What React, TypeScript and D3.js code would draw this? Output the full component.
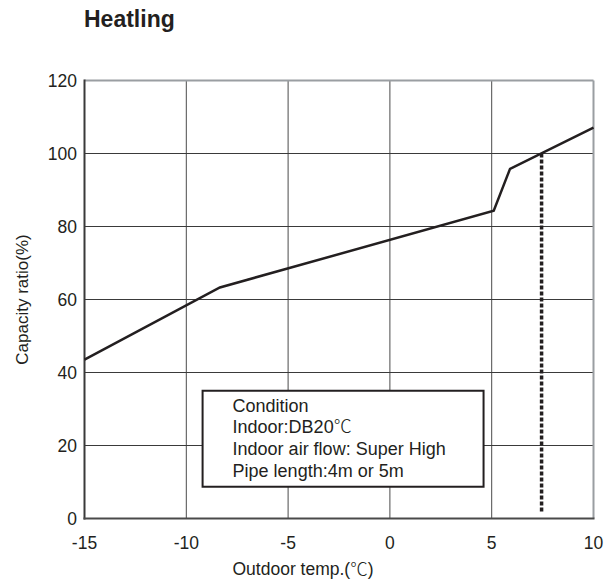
import React from 'react';
import * as d3 from 'd3';

const TEMPS = [-15, -8.35, 5.1, 5.9, 10];
const CAPACITY = [43.5, 63.3, 84.3, 95.8, 107.1];
const RATED_TEMP = 7.45;
const RATED_RANGE = [1.5, 100];
const X_TICKS = [-15, -10, -5, 0, 5, 10];
const Y_TICKS = [0, 20, 40, 60, 80, 100, 120];
const NOTE_LINES = ['Condition', 'Indoor:DB20℃', 'Indoor air flow: Super High', 'Pipe length:4m or 5m'];

const W = 614;
const H = 586;
const FONT = 'Liberation Sans, Arial, sans-serif';
const CJK = '"Noto Sans CJK SC", sans-serif';

// draw the ℃ sign with a CJK face, as in the original
function withDegree(s: string) {
  const parts = s.split('℃');
  if (parts.length === 1) return s;
  return parts.map((p, i) => (
    <React.Fragment key={i}>
      {p}
      {i < parts.length - 1 && <tspan fontFamily={CJK} fontWeight={300}>℃</tspan>}
    </React.Fragment>
  ));
}

export default function App() {
  const x = d3.scaleLinear().domain([-15, 10]).range([84.5, 593.5]);
  const y = d3.scaleLinear().domain([0, 120]).range([518.5, 80.5]);

  const line = d3.line<number>()
    .x((_, i) => x(TEMPS[i]))
    .y((d) => y(d));

  // note box, placed in data units
  const bx0 = x(-9.2);
  const bx1 = x(4.6);
  const by0 = y(35);
  const by1 = y(8.7);

  return (
    <svg width={W} height={H} style={{ position: 'absolute', left: 0, top: 0, background: '#fff' }}>
      <text x={84} y={27} fontFamily={FONT} fontWeight="bold" fontSize={23} fill="#231f20">Heatling</text>

      {/* grid */}
      {X_TICKS.slice(1, -1).map((t) => (
        <line key={`gx${t}`} x1={x(t)} x2={x(t)} y1={y(120)} y2={y(0)} stroke="#4a4a4a" strokeWidth={1} />
      ))}
      {Y_TICKS.slice(1, -1).map((t) => (
        <line key={`gy${t}`} x1={x(-15)} x2={x(10)} y1={y(t)} y2={y(t)} stroke="#3a3a3a" strokeWidth={1} />
      ))}
      <line x1={x(-15)} x2={x(10)} y1={y(120)} y2={y(120)} stroke="#9a9ea2" strokeWidth={2} />
      <line x1={x(10)} x2={x(10)} y1={y(120)} y2={y(0)} stroke="#9a9ea2" strokeWidth={2} />
      <line x1={x(-15)} x2={x(-15)} y1={y(120) - 1} y2={y(0) + 1} stroke="#3a3a3a" strokeWidth={2} />
      <line x1={x(-15) - 1} x2={x(10) + 1} y1={y(0)} y2={y(0)} stroke="#4a4a4a" strokeWidth={2} />

      {/* note box */}
      <rect x={bx0} y={by0} width={bx1 - bx0} height={by1 - by0} fill="#fff" stroke="#231f20" strokeWidth={2} />
      {NOTE_LINES.map((s, i) => (
        <text key={s} x={bx0 + 30} y={by0 + 21 + i * 21.7} fontFamily={FONT} fontSize={18} fill="#231f20">{withDegree(s)}</text>
      ))}

      {/* rated point marker */}
      <line x1={x(RATED_TEMP)} x2={x(RATED_TEMP)} y1={y(RATED_RANGE[1])} y2={y(RATED_RANGE[0])}
        stroke="#231f20" strokeWidth={3.5} strokeDasharray="4 2" />

      <path d={line(CAPACITY) ?? ''} fill="none" stroke="#231f20" strokeWidth={2.5} strokeLinejoin="miter" />

      {/* tick labels */}
      {Y_TICKS.map((t) => (
        <text key={`yl${t}`} x={77} y={y(t)} dy="0.35em" textAnchor="end" fontFamily={FONT} fontSize={17.5} fill="#231f20">{t}</text>
      ))}
      {X_TICKS.map((t) => (
        <text key={`xl${t}`} x={x(t)} y={549} textAnchor="middle" fontFamily={FONT} fontSize={17.5} fill="#231f20">{t}</text>
      ))}

      <text x={303} y={575} textAnchor="middle" fontFamily={FONT} fontSize={17.5} fill="#231f20">{withDegree('Outdoor temp.(℃)')}</text>
      <text transform={`translate(28,${(y(0) + y(120)) / 2}) rotate(-90)`} textAnchor="middle"
        fontFamily={FONT} fontSize={17} fill="#231f20">Capacity ratio(%)</text>
    </svg>
  );
}
